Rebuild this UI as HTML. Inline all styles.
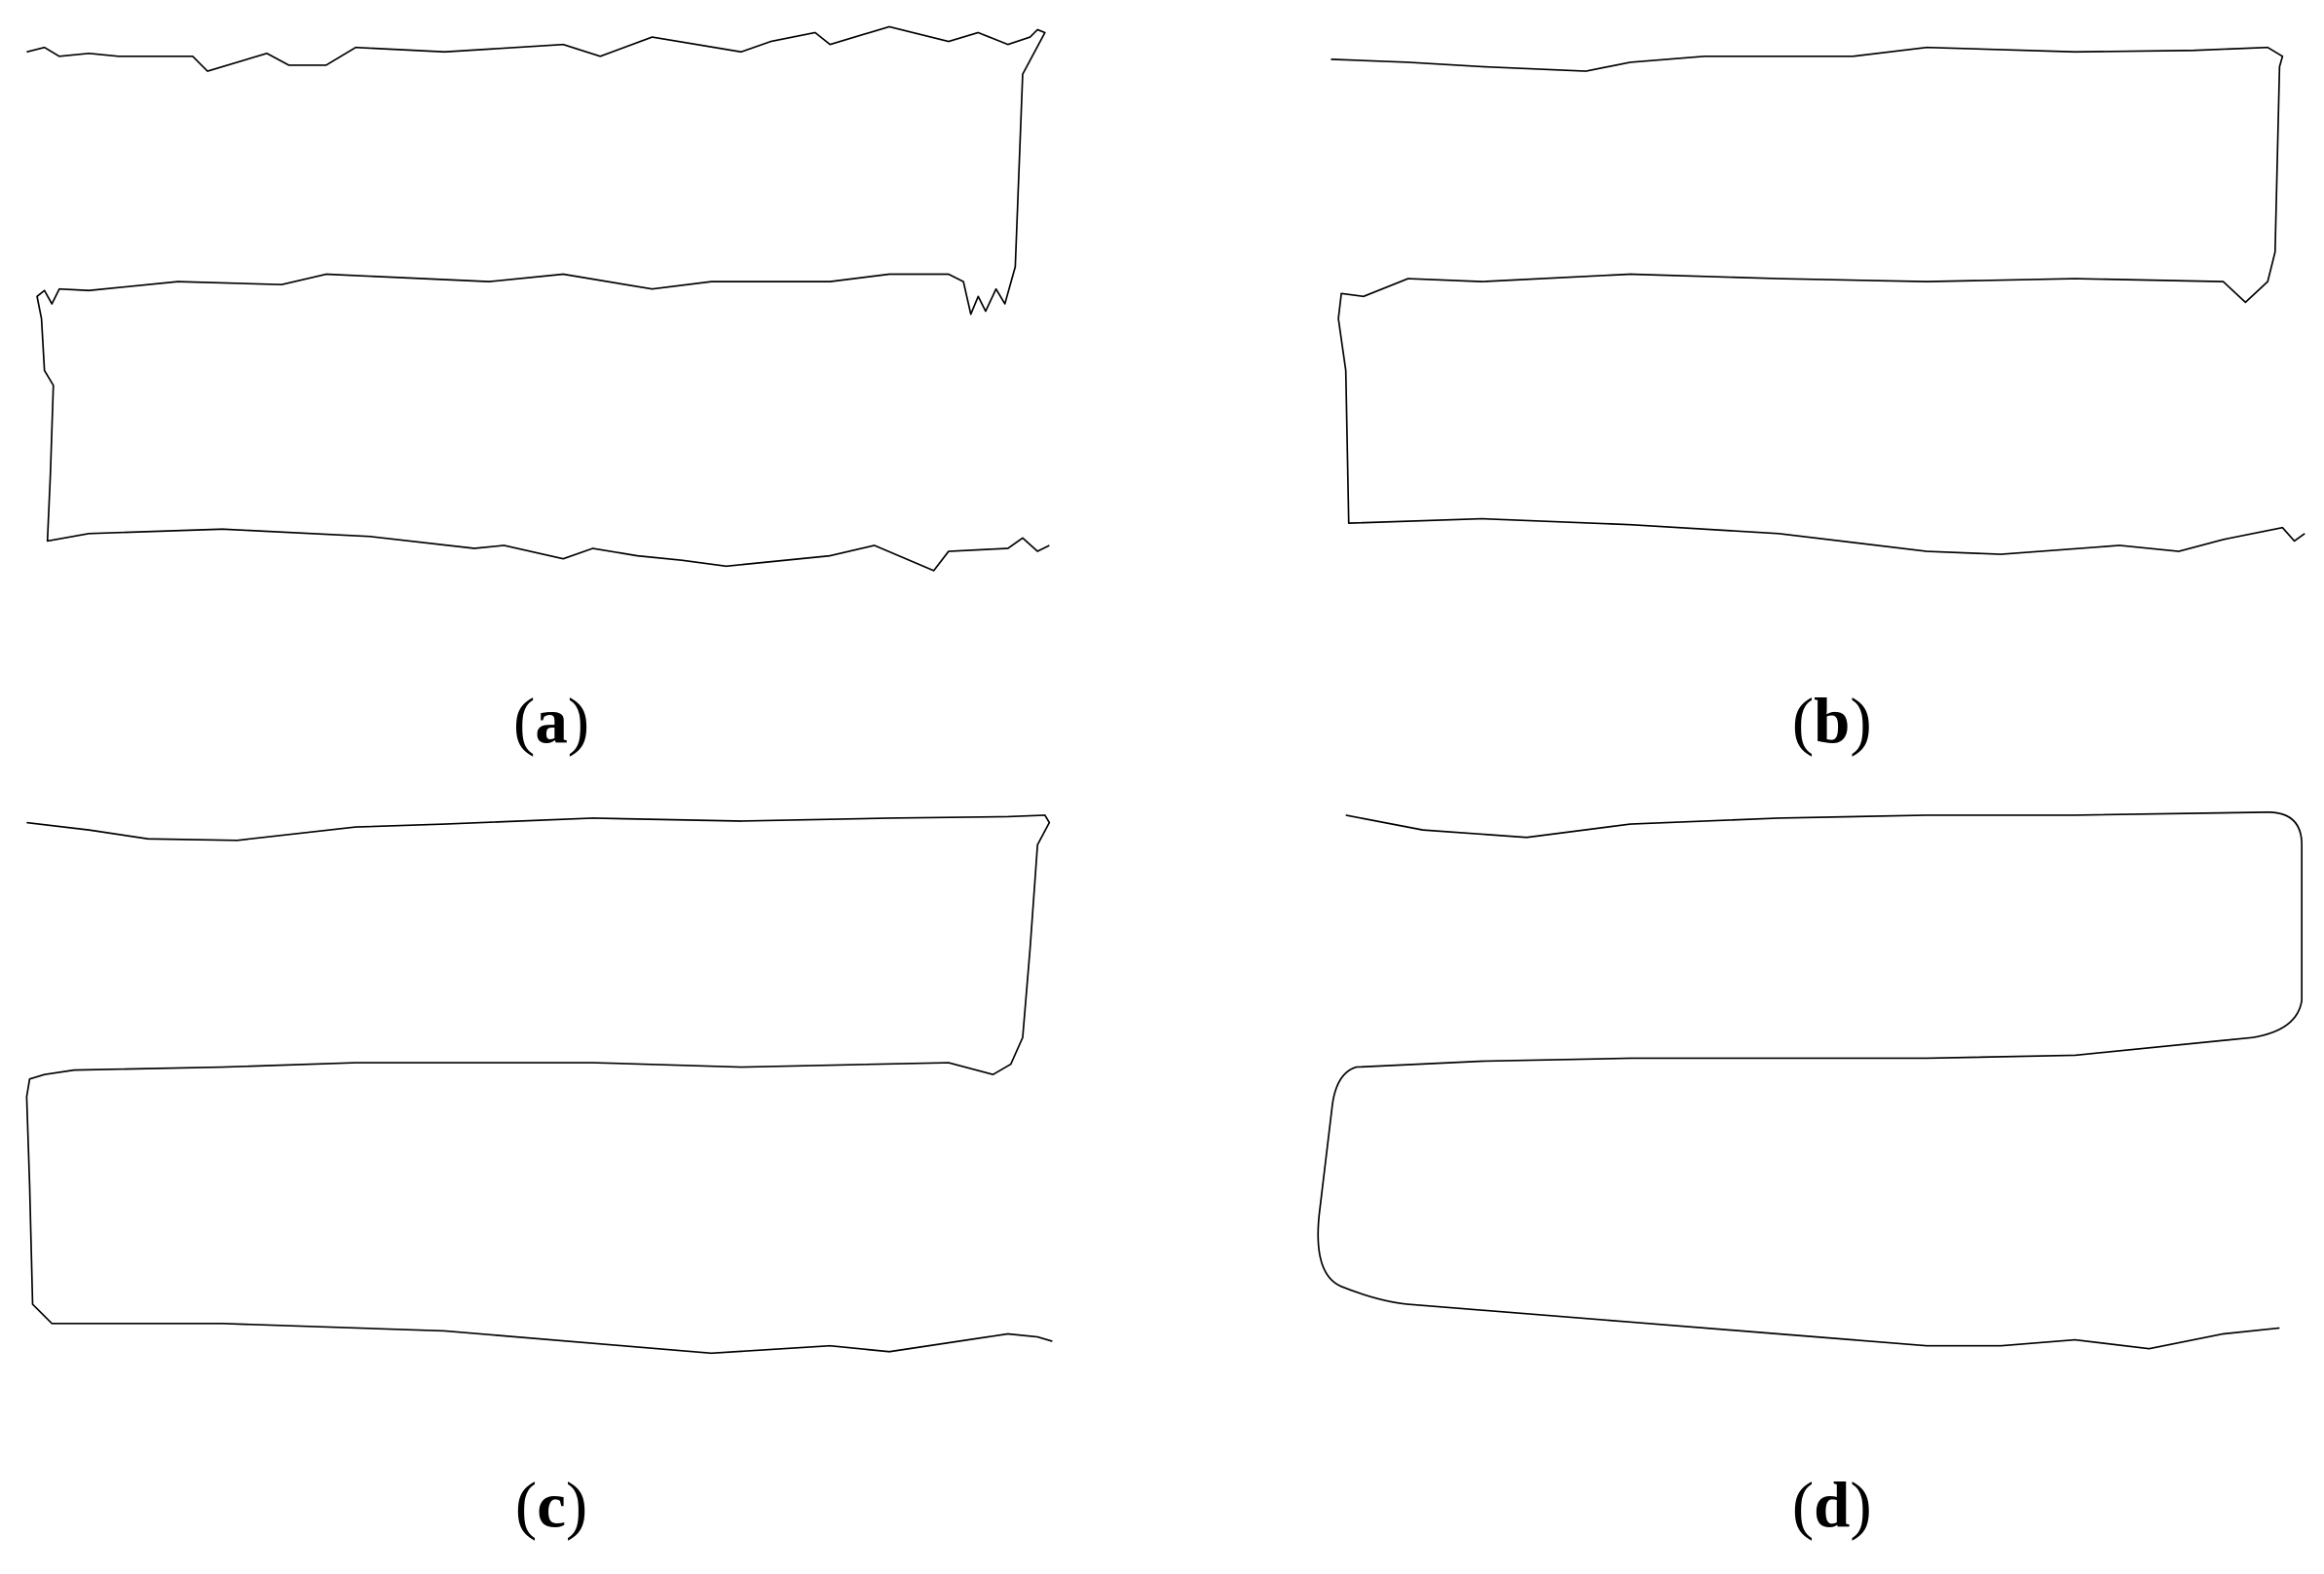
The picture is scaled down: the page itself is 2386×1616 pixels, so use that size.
<!DOCTYPE html>
<html><head><meta charset="utf-8"><style>html,body{margin:0;padding:0;background:#fff}svg{display:block}</style></head>
<body>
<svg width="2386" height="1616" viewBox="0 0 1568 1062" preserveAspectRatio="none" xmlns="http://www.w3.org/2000/svg">
<g fill="none" stroke="#000" stroke-width="1.1" stroke-linejoin="round">
<polyline points="18,35 30,32 40,38 60,36 80,38 130,38 140,48 180,36 195,44 220,44 240,32 300,35 380,30 405,38 440,25 500,35 520,28 550,22 560,30 600,18 640,28 660,22 680,30 695,25 700,20 705,22 690,50 685,180 678,205 672,195 665,210 660,200 655,212 650,190 640,185 600,185 560,190 480,190 440,195 380,185 330,190 220,185 190,192 120,190 60,196 40,195 35,205 30,196 25,200 28,215 30,250 36,260 34,320 32,365 60,360 150,357 250,362 320,370 340,368 380,377 400,370 430,375 460,378 490,382 560,375 590,368 630,385 640,372 680,370 690,363 700,372 708,368"/>
<polyline points="898,40 950,42 1000,45 1070,48 1100,42 1150,38 1250,38 1300,32 1400,35 1480,34 1530,32 1540,38 1538,45 1535,170 1530,190 1515,204 1500,190 1400,188 1300,190 1200,188 1100,185 1000,190 950,188 920,200 905,198 903,215 908,250 910,353 1000,350 1100,354 1200,360 1300,372 1350,374 1430,368 1470,372 1500,364 1540,356 1548,365 1555,360"/>
<polyline points="18,555 60,560 100,566 160,567 240,558 300,556 400,552 500,554 600,552 680,551 705,550 708,555 700,570 695,640 690,700 682,718 670,725 640,717 500,720 400,717 240,717 150,720 50,722 30,725 20,728 18,740 20,800 22,880 35,893 150,893 300,898 420,908 480,913 560,908 600,912 680,900 700,902 710,905"/>
<path d="M908,550 L960,560 L1030,565 L1100,556 L1200,552 L1300,550 L1400,550 L1530,548 Q1553,548 1553,570 L1553,675 Q1550,695 1520,700 L1400,712 L1300,714 L1100,714 L1000,716 L915,720 Q902,724 899,745 L890,820 Q886,860 905,868 Q930,878 950,880 L1100,892 L1200,900 L1300,908 L1350,908 L1400,904 L1450,910 L1500,900 L1538,896"/>
</g>
<g font-family="Liberation Serif, serif" font-size="44" text-anchor="middle">
<text x="372" y="501">(<tspan font-weight="bold">a</tspan>)</text>
<text x="1236" y="501">(<tspan font-weight="bold">b</tspan>)</text>
<text x="372" y="1030">(<tspan font-weight="bold">c</tspan>)</text>
<text x="1236" y="1030">(<tspan font-weight="bold">d</tspan>)</text>
</g>
</svg>
</body></html>
